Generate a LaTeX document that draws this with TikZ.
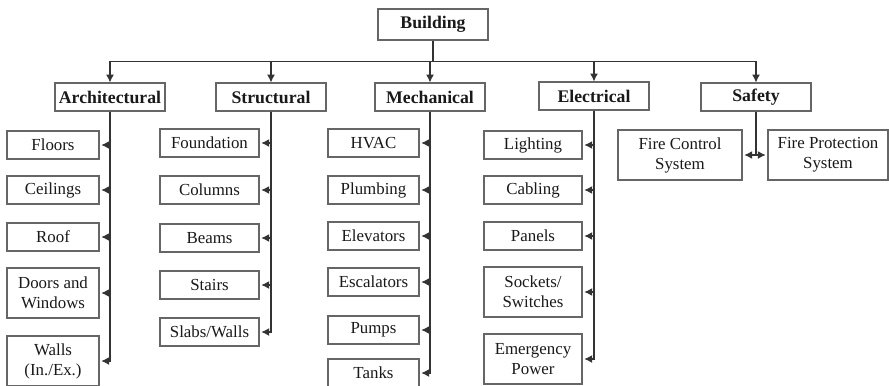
\documentclass[tikz,border=0pt]{standalone}
\usepackage{fontspec}
\setmainfont{Liberation Serif}
\usetikzlibrary{arrows.meta}

\tikzset{
    box/.style={draw=black!60, line width=0.6pt, align=center, inner sep=1pt,
        text=black!90, font=\fontsize{9.6}{11.4}\selectfont},
    headbox/.style={box, minimum width=2.2cm, minimum height=0.56cm,
        font=\fontsize{10.1}{12}\selectfont\bfseries},
    link/.style={->, draw=black!80, line width=0.6pt, shorten >=1pt}
}

\begin{document}
\begin{tikzpicture}[>={Latex[length=4.5pt,width=4.5pt]}]
    \useasboundingbox (0,0) rectangle (17.78,-7.7);

    % top node and the five groups
    \node[headbox, minimum height=0.62cm] (building) at (8.66,-0.49) {Building};
    \node[headbox] (arch)   at (2.2,-1.94)   {Architectural};
    \node[headbox] (struct) at (5.42,-1.94)  {Structural};
    \node[headbox] (mech)   at (8.6,-1.94)   {Mechanical};
    \node[headbox] (elec)   at (11.88,-1.92) {Electrical};
    \node[headbox] (safety) at (15.12,-1.94) {Safety};

    % bus from Building to each group
    \foreach \g in {arch, struct, mech, elec, safety} {
        \draw[link, shorten >=0pt] (building.south) -- ++(0,-0.42) -| (\g.north);
    }

    % Architectural items
    \foreach \n/\y/\h/\t in {floors/-2.9/0.56/Floors, ceilings/-3.8/0.56/Ceilings,
            roof/-4.74/0.56/Roof, doors/-5.86/1.0/{Doors and\\Windows},
            walls/-7.22/1.0/{Walls\\(In./Ex.)}} {
        \node[box, minimum width=1.84cm, minimum height=\h cm] (\n) at (1.06,\y) {\t};
        \draw[link] (arch.south) |- (\n.east);
    }

    % Structural items
    \foreach \n/\y/\t in {found/-2.86/Foundation, columns/-3.8/Columns,
            beams/-4.76/Beams, stairs/-5.7/Stairs, slabs/-6.64/{Slabs/Walls}} {
        \node[box, minimum width=1.98cm, minimum height=0.56cm] (\n) at (4.19,\y) {\t};
        \draw[link] (struct.south) |- (\n.east);
    }

    % Mechanical items
    \foreach \n/\y/\t in {hvac/-2.86/HVAC, plumb/-3.8/Plumbing, elev/-4.72/Elevators,
            escal/-5.64/Escalators, pumps/-6.6/Pumps, tanks/-7.46/Tanks} {
        \node[box, minimum width=1.82cm, minimum height=0.56cm] (\n) at (7.47,\y) {\t};
        \draw[link] (mech.south) |- (\n.east);
    }

    % Electrical items
    \foreach \n/\y/\h/\t in {light/-2.9/0.56/Lighting, cabling/-3.8/0.56/Cabling,
            panels/-4.72/0.56/Panels, sockets/-5.84/1.0/{Sockets/\\Switches},
            emerg/-7.18/1.0/{Emergency\\Power}} {
        \node[box, minimum width=1.96cm, minimum height=\h cm] (\n) at (10.66,\y) {\t};
        \draw[link] (elec.south) |- (\n.east);
    }

    % Safety items
    \node[box, minimum width=2.48cm, minimum height=1.0cm] (fcs) at (13.6,-3.1) {Fire Control\\System};
    \node[box, minimum width=2.4cm, minimum height=1.0cm] (fps) at (16.56,-3.1) {Fire Protection\\System};
    \draw[link] (safety.south) |- (fcs.east);
    \draw[link] (safety.south) |- (fps.west);
\end{tikzpicture}
\end{document}
